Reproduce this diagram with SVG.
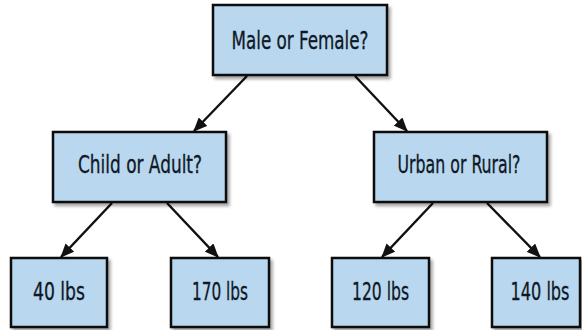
<svg xmlns="http://www.w3.org/2000/svg" width="582" height="330" viewBox="0 0 582 330">
  <defs>
    <filter id="shadow" x="-10%" y="-10%" width="130%" height="140%">
      <feDropShadow dx="2.5" dy="3" stdDeviation="1.8" flood-color="#000" flood-opacity="0.35"/>
    </filter>
    <marker id="arrow" viewBox="0 0 14 12" refX="13" refY="6" markerWidth="14" markerHeight="12" markerUnits="userSpaceOnUse" orient="auto">
      <path d="M0,0 L14,6 L0,12 Z" fill="#111"/>
    </marker>
  </defs>
  <style>
    .box { fill: #b9d7ee; stroke: #111; stroke-width: 2.5; filter: url(#shadow); }
    .lbl { font-family: "Liberation Sans Narrow", "DejaVu Sans Condensed", "Liberation Sans", sans-serif; font-size: 24px; fill: #0f1826; text-anchor: middle; stroke: #0f1826; stroke-width: 0.3; }
    .edge { stroke: #111; stroke-width: 2.4; fill: none; marker-end: url(#arrow); }
  </style>
  <rect width="582" height="330" fill="#fff"/>
  <g id="connectors">
    <line class="edge" x1="247" y1="76" x2="194" y2="131"/>
    <line class="edge" x1="355" y1="76" x2="407" y2="131"/>
    <line class="edge" x1="112" y1="203" x2="61" y2="257"/>
    <line class="edge" x1="167" y1="203" x2="218" y2="257"/>
    <line class="edge" x1="433" y1="203" x2="382" y2="257"/>
    <line class="edge" x1="487" y1="203" x2="540" y2="257"/>
  </g>
  <g id="root">
    <rect class="box" x="213" y="5" width="174" height="70"/>
    <text class="lbl" x="300" y="49" textLength="137" lengthAdjust="spacingAndGlyphs">Male or Female?</text>
  </g>
  <g id="child-adult">
    <rect class="box" x="53" y="132" width="173" height="70"/>
    <text class="lbl" x="140" y="173" textLength="124" lengthAdjust="spacingAndGlyphs">Child or Adult?</text>
  </g>
  <g id="urban-rural">
    <rect class="box" x="374" y="132" width="173" height="70"/>
    <text class="lbl" x="459" y="173" textLength="123" lengthAdjust="spacingAndGlyphs">Urban or Rural?</text>
  </g>
  <g id="leaf-40">
    <rect class="box" x="11" y="258" width="96" height="69"/>
    <text class="lbl" x="59" y="300" textLength="52" lengthAdjust="spacingAndGlyphs">40 lbs</text>
  </g>
  <g id="leaf-170">
    <rect class="box" x="171" y="258" width="98" height="69"/>
    <text class="lbl" x="220" y="300" textLength="56" lengthAdjust="spacingAndGlyphs">170 lbs</text>
  </g>
  <g id="leaf-120">
    <rect class="box" x="332" y="258" width="97" height="69"/>
    <text class="lbl" x="380.5" y="300" textLength="57" lengthAdjust="spacingAndGlyphs">120 lbs</text>
  </g>
  <g id="leaf-140">
    <rect class="box" x="492" y="258" width="88" height="69"/>
    <text class="lbl" x="540" y="300" textLength="59" lengthAdjust="spacingAndGlyphs">140 lbs</text>
  </g>
</svg>
